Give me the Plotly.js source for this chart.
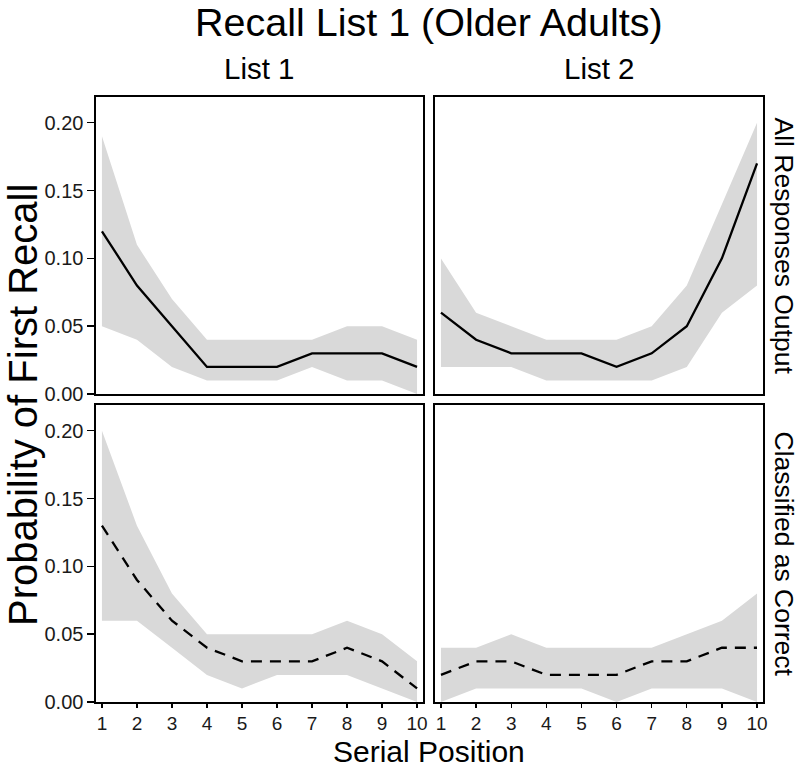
<!DOCTYPE html>
<html>
<head>
<meta charset="utf-8">
<script src="https://cdn.plot.ly/plotly-3.0.1.min.js"></script>
<style>html,body{margin:0;padding:0;background:#fff;}#chart{width:800px;height:770px;}</style>
</head>
<body>
<div id="chart"></div>
<script>
// Serial positions
const serialPos = [1, 2, 3, 4, 5, 6, 7, 8, 9, 10];

// All Responses Output, List 1
const allL1Mean  = [0.12, 0.08, 0.05, 0.02, 0.02, 0.02, 0.03, 0.03, 0.03, 0.02];
const allL1Upper = [0.19, 0.11, 0.07, 0.04, 0.04, 0.04, 0.04, 0.05, 0.05, 0.04];
const allL1Lower = [0.05, 0.04, 0.02, 0.01, 0.01, 0.01, 0.02, 0.01, 0.01, 0.00];

// All Responses Output, List 2
const allL2Mean  = [0.06, 0.04, 0.03, 0.03, 0.03, 0.02, 0.03, 0.05, 0.10, 0.17];
const allL2Upper = [0.10, 0.06, 0.05, 0.04, 0.04, 0.04, 0.05, 0.08, 0.14, 0.20];
const allL2Lower = [0.02, 0.02, 0.02, 0.01, 0.01, 0.01, 0.01, 0.02, 0.06, 0.08];

// Classified as Correct, List 1
const corL1Mean  = [0.13, 0.09, 0.06, 0.04, 0.03, 0.03, 0.03, 0.04, 0.03, 0.01];
const corL1Upper = [0.20, 0.13, 0.08, 0.05, 0.05, 0.05, 0.05, 0.06, 0.05, 0.03];
const corL1Lower = [0.06, 0.06, 0.04, 0.02, 0.01, 0.02, 0.02, 0.02, 0.01, 0.00];

// Classified as Correct, List 2
const corL2Mean  = [0.02, 0.03, 0.03, 0.02, 0.02, 0.02, 0.03, 0.03, 0.04, 0.04];
const corL2Upper = [0.04, 0.04, 0.05, 0.04, 0.04, 0.04, 0.04, 0.05, 0.06, 0.08];
const corL2Lower = [0.00, 0.01, 0.01, 0.01, 0.01, 0.00, 0.01, 0.01, 0.01, 0.00];

const yTickVals = [0, 0.05, 0.10, 0.15, 0.20];
const yTickText = ['0.00', '0.05', '0.10', '0.15', '0.20'];
const colLabels = ['List 1', 'List 2'];
const rowLabels = ['All Responses Output', 'Classified as Correct'];

const FONT = 'Liberation Sans, Arial, Helvetica, sans-serif';
const RIB = '#d9d9d9';

function panel(xa, ya, mean, up, lo, dash) {
  return [
    {x: serialPos, y: lo, xaxis: xa, yaxis: ya, type: 'scatter', mode: 'lines',
     line: {width: 0, color: RIB}, showlegend: false, hoverinfo: 'skip'},
    {x: serialPos, y: up, xaxis: xa, yaxis: ya, type: 'scatter', mode: 'lines',
     line: {width: 0, color: RIB}, fill: 'tonexty', fillcolor: RIB, showlegend: false, hoverinfo: 'skip'},
    {x: serialPos, y: mean, xaxis: xa, yaxis: ya, type: 'scatter', mode: 'lines',
     line: {width: 2.3, color: '#000', dash: dash}, showlegend: false}
  ];
}

const data = [].concat(
  panel('x', 'y', allL1Mean, allL1Upper, allL1Lower, 'solid'),
  panel('x2', 'y2', allL2Mean, allL2Upper, allL2Lower, 'solid'),
  panel('x3', 'y3', corL1Mean, corL1Upper, corL1Lower, '11px,8px'),
  panel('x4', 'y4', corL2Mean, corL2Upper, corL2Lower, '11px,8px')
);

const W = 800, H = 770;
const xL = [96 / W, 423 / W], xR = [435 / W, 763 / W];
const yT = [1 - 394 / H, 1 - 97 / H], yB = [1 - 702 / H, 1 - 405 / H];
const XR = [0.83, 10.17], YR = [0, 0.219];

function xax(dom, anchor, showTicks) {
  return {domain: dom, anchor: anchor, range: XR, showgrid: false, zeroline: false,
    showline: true, mirror: true, linecolor: '#000', linewidth: 1.6,
    ticks: showTicks ? 'outside' : '', ticklen: 4, tickwidth: 1.4, tickcolor: '#000',
    tickvals: serialPos, showticklabels: showTicks,
    tickfont: {family: FONT, size: 19, color: '#1a1a1a'}, fixedrange: true};
}
function yax(dom, anchor, showTicks) {
  return {domain: dom, anchor: anchor, range: YR, showgrid: false, zeroline: false,
    showline: true, mirror: true, linecolor: '#000', linewidth: 1.6,
    ticks: showTicks ? 'outside' : '', ticklen: 7, tickwidth: 1.4, tickcolor: '#000',
    tickvals: yTickVals, ticktext: yTickText, showticklabels: showTicks,
    tickfont: {family: FONT, size: 20, color: '#1a1a1a'}, fixedrange: true};
}

const ann = (text, x, y, size, angle, yanchor) => ({text: text, x: x, y: y, xref: 'paper', yref: 'paper',
  showarrow: false, xanchor: 'center', yanchor: yanchor || 'middle', textangle: angle || 0, borderpad: 0,
  font: {family: FONT, size: size, color: '#000'}});

const layout = {
  width: W, height: H, autosize: false,
  margin: {l: 0, r: 0, t: 0, b: 0},
  paper_bgcolor: '#fff', plot_bgcolor: '#fff',
  showlegend: false,
  xaxis: xax(xL, 'y', false), yaxis: yax(yT, 'x', true),
  xaxis2: xax(xR, 'y2', false), yaxis2: yax(yT, 'x2', false),
  xaxis3: xax(xL, 'y3', true), yaxis3: yax(yB, 'x3', true),
  xaxis4: xax(xR, 'y4', true), yaxis4: yax(yB, 'x4', false),
  annotations: [
    ann('Recall List 1 (Older Adults)', 429 / W, 1 - 22 / H, 39.5),
    ann(colLabels[0], 259.5 / W, 1 - 68 / H, 29.5),
    ann(colLabels[1], 599 / W, 1 - 68 / H, 29.5),
    ann(rowLabels[0], 784 / W, 1 - 245.5 / H, 26.5, 90),
    ann(rowLabels[1], 784 / W, 1 - 553.5 / H, 26.5, 90),
    ann('Serial Position', 429 / W, 0.001, 30, 0, 'bottom'),
    ann('Probability of First Recall', 23 / W, 1 - 405 / H, 40, -90)
  ]
};

Plotly.newPlot('chart', data, layout, {displayModeBar: false, staticPlot: true});
</script>
</body>
</html>
